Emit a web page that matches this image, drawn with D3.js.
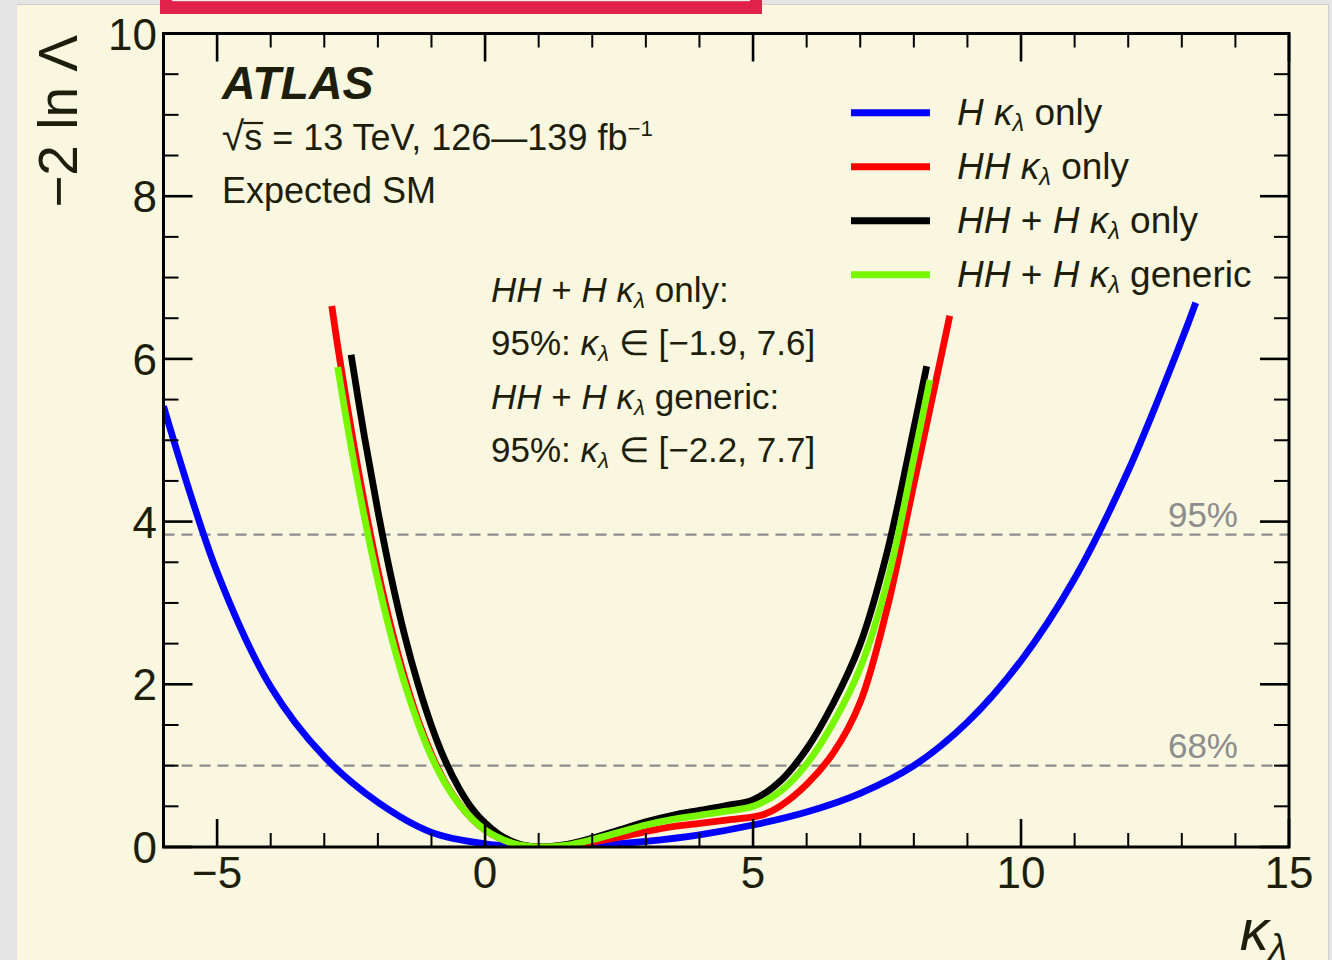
<!DOCTYPE html>
<html>
<head>
<meta charset="utf-8">
<script src="https://cdn.jsdelivr.net/npm/d3@7/dist/d3.min.js"></script>
<style>
  html, body { margin: 0; padding: 0; background: #e4e4e4; }
  svg { display: block; font-family: "Liberation Sans", Arial, Helvetica, sans-serif; }
</style>
</head>
<body>
<svg id="chart" width="1332" height="960"></svg>
<script>
// Likelihood scans of kappa_lambda (expected, SM hypothesis)
const kappaH    = [-6, -5, -4, -3, -2, -1, 0, 1, 2, 3, 4, 5, 6, 7, 8, 9, 10, 11, 12, 13, 13.26];
const nllH      = [5.42, 3.38, 1.97, 1.11, 0.55, 0.18, 0.04, 0, 0.02, 0.07, 0.15, 0.27, 0.43, 0.66, 1.0, 1.535, 2.29, 3.3, 4.625, 6.235, 6.69];

const kappaHH   = [-2.86, -2.75, -2.5, -2.25, -2, -1.75, -1.5, -1.25, -1, -0.75, -0.5, -0.25, 0, 0.25, 0.5, 0.75, 1, 1.5, 2, 2.5, 3, 3.5, 4, 4.5, 5, 5.2, 5.5, 6, 6.5, 7, 7.5, 8, 8.5, 8.67];
const nllHH     = [6.65, 6.16, 5.14, 4.22, 3.40, 2.69, 2.08, 1.56, 1.14, 0.80, 0.545, 0.35, 0.21, 0.115, 0.05, 0.0125, 0, 0.02, 0.06, 0.12, 0.19, 0.25, 0.29, 0.33, 0.37, 0.40, 0.50, 0.77, 1.16, 1.78, 2.93, 4.46, 6.0, 6.53];

const kappaComb = [-2.5, -2.25, -2, -1.75, -1.5, -1.25, -1, -0.75, -0.5, -0.25, 0, 0.25, 0.5, 0.75, 1, 1.5, 2, 2.5, 3, 3.5, 4, 4.5, 5, 5.5, 6, 6.5, 7, 7.5, 8, 8.24];
const nllComb   = [6.05, 5.04, 4.13, 3.31, 2.6, 2.0, 1.49, 1.07, 0.74, 0.48, 0.295, 0.16, 0.07, 0.018, 0, 0.03, 0.11, 0.21, 0.31, 0.39, 0.45, 0.51, 0.58, 0.805, 1.205, 1.77, 2.495, 3.62, 5.145, 5.91];

const kappaGen  = [-2.75, -2.5, -2.25, -2, -1.75, -1.5, -1.25, -1, -0.75, -0.5, -0.25, 0, 0.25, 0.5, 0.75, 1, 1.5, 2, 2.5, 3, 3.5, 4, 4.5, 5, 5.5, 6, 6.5, 7, 7.5, 8, 8.3];
const nllGen    = [5.9, 4.92, 4.05, 3.27, 2.59, 2.01, 1.52, 1.11, 0.79, 0.54, 0.35, 0.21, 0.115, 0.05, 0.0125, 0, 0.02, 0.09, 0.18, 0.27, 0.34, 0.39, 0.44, 0.50, 0.68, 1.02, 1.53, 2.2, 3.25, 4.78, 5.74];

const seriesNames  = ["H", "HH", "HH+H only", "HH+H generic"];
const seriesColors = ["#0000ff", "#ff0000", "#000000", "#77f700"];

const xTicksMajor = [-5, 0, 5, 10, 15];
const yTicksMajor = [0, 2, 4, 6, 8, 10];
const clLevels    = [1, 3.84];
const clLabels    = ["68%", "95%"];

const intervalComb = [-1.9, 7.6];
const intervalGen  = [-2.2, 7.7];

(function draw() {
  const svg = d3.select("#chart");
  const W = 1332, H = 960;
  const TXT = "#1e1e0c";

  // page panel
  svg.append("rect").attr("x", 0).attr("y", 0).attr("width", W).attr("height", H).attr("fill", "#e4e4e4");
  svg.append("rect").attr("x", 17).attr("y", 4.5).attr("width", 1311).attr("height", H).attr("fill", "#f9f7e0");
  svg.append("line").attr("x1", 17).attr("x2", 1328).attr("y1", 4.5).attr("y2", 4.5).attr("stroke", "#cfcfcf").attr("stroke-width", 1);
  svg.append("line").attr("x1", 1328.5).attr("x2", 1328.5).attr("y1", 4.5).attr("y2", H).attr("stroke", "#cfcfcf").attr("stroke-width", 1);
  // banner strip at the top edge
  svg.append("rect").attr("x", 160).attr("y", 0).attr("width", 602).attr("height", 14).attr("fill", "#e0224a");
  svg.append("rect").attr("x", 172).attr("y", 0).attr("width", 578).attr("height", 1.2).attr("fill", "#eaeaea");

  const pL = 163.5, pR = 1289, pT = 33.5, pB = 847;
  const x = d3.scaleLinear().domain([-6, 15]).range([pL, pR]);
  const y = d3.scaleLinear().domain([0, 10]).range([pB, pT]);

  svg.append("clipPath").attr("id", "plotClip")
    .append("rect").attr("x", pL).attr("y", pT).attr("width", pR - pL).attr("height", pB - pT);

  // confidence-level reference lines
  clLevels.forEach((lv, i) => {
    svg.append("line")
      .attr("x1", pL).attr("x2", pR).attr("y1", y(lv)).attr("y2", y(lv))
      .attr("stroke", "#8d8d8d").attr("stroke-width", 2.4).attr("stroke-dasharray", "11,7");
    svg.append("text")
      .attr("x", 1238).attr("y", y(lv) - 8)
      .attr("text-anchor", "end").attr("font-size", 35).attr("fill", "#8d8d8d")
      .text(clLabels[i]);
  });

  // scan curves
  const line = d3.line().x(d => x(d[0])).y(d => y(d[1])).curve(d3.curveCatmullRom.alpha(0.5));
  const curves = [
    [kappaH, nllH, 0],
    [kappaHH, nllHH, 1],
    [kappaComb, nllComb, 2],
    [kappaGen, nllGen, 3]
  ];
  const cg = svg.append("g").attr("clip-path", "url(#plotClip)");
  curves.forEach(([ks, vs, ci]) => {
    cg.append("path")
      .datum(ks.map((k, i) => [k, vs[i]]))
      .attr("d", line)
      .attr("fill", "none")
      .attr("stroke", seriesColors[ci])
      .attr("stroke-width", 6.8)
      .attr("stroke-linejoin", "round");
  });

  // frame and ticks
  const axes = svg.append("g").attr("stroke", "#000");
  axes.append("rect").attr("x", pL).attr("y", pT).attr("width", pR - pL).attr("height", pB - pT)
    .attr("fill", "none").attr("stroke-width", 3);
  d3.range(-6, 16, 1).forEach(v => {
    const major = xTicksMajor.includes(v);
    const len = major ? 28 : 14;
    axes.append("line").attr("x1", x(v)).attr("x2", x(v)).attr("y1", pB).attr("y2", pB - len).attr("stroke-width", major ? 2.6 : 2);
    axes.append("line").attr("x1", x(v)).attr("x2", x(v)).attr("y1", pT).attr("y2", pT + len).attr("stroke-width", major ? 2.6 : 2);
  });
  d3.range(0, 10.01, 0.5).forEach(v => {
    const major = yTicksMajor.includes(v);
    const len = major ? 29 : 15;
    axes.append("line").attr("x1", pL).attr("x2", pL + len).attr("y1", y(v)).attr("y2", y(v)).attr("stroke-width", major ? 2.6 : 2);
    axes.append("line").attr("x1", pR).attr("x2", pR - len).attr("y1", y(v)).attr("y2", y(v)).attr("stroke-width", major ? 2.6 : 2);
  });

  // tick labels
  const fmt = v => (v < 0 ? "\u2212" + Math.abs(v) : String(v));
  xTicksMajor.forEach(v => {
    svg.append("text").attr("x", x(v)).attr("y", 888).attr("text-anchor", "middle")
      .attr("font-size", 44).attr("fill", TXT).text(fmt(v));
  });
  yTicksMajor.forEach(v => {
    svg.append("text").attr("x", 157).attr("y", y(v) + 16).attr("text-anchor", "end")
      .attr("font-size", 44).attr("fill", TXT).text(fmt(v));
  });

  // axis titles
  svg.append("text")
    .attr("transform", "translate(77,35) rotate(-90)")
    .attr("text-anchor", "end").attr("font-size", 55).attr("fill", TXT)
    .text("\u22122 ln \u039b");

  function richText(g, xp, yp, size, segs, anchor) {
    const t = g.append("text").attr("x", xp).attr("y", yp).attr("font-size", size).attr("fill", TXT);
    if (anchor) t.attr("text-anchor", anchor);
    let shift = 0;
    segs.forEach(s => {
      const ts = t.append("tspan").text(s.t);
      if (s.i) ts.attr("font-style", "italic");
      const target = s.sub ? size * 0.17 : (s.sup ? -size * 0.38 : 0);
      if (target !== shift) { ts.attr("dy", target - shift); shift = target; }
      if (s.sub) ts.attr("font-size", size * 0.64);
      if (s.sup) ts.attr("font-size", size * 0.62);
      if (s.big) ts.attr("font-size", size * s.big);
    });
    return t;
  }
  const kl = [{t: "\u03ba", i: 1}, {t: "\u03bb", i: 1, sub: 1}];

  richText(svg, 1287, 950, 58, kl, "end");

  // experiment label
  svg.append("text").attr("x", 222).attr("y", 99).attr("font-size", 46.5)
    .attr("font-weight", "bold").attr("font-style", "italic").attr("fill", TXT).text("ATLAS");

  const energy = richText(svg, 222, 150, 36, [
    {t: "\u221a", big: 1.12}, {t: "s"}, {t: " = 13 TeV, 126\u2014139 fb"}, {t: "\u22121", sup: 1}
  ]);
  {
    const n = energy.node();
    const x0 = n.getStartPositionOfChar(1).x;
    const x1 = n.getEndPositionOfChar(1).x;
    svg.append("line").attr("x1", x0 - 1).attr("x2", x1 + 1).attr("y1", 123).attr("y2", 123)
      .attr("stroke", TXT).attr("stroke-width", 2.2);
  }
  svg.append("text").attr("x", 222).attr("y", 203).attr("font-size", 36).attr("fill", TXT).text("Expected SM");

  // interval summary
  const fmtI = v => (v < 0 ? "\u2212" + Math.abs(v).toFixed(1) : v.toFixed(1));
  richText(svg, 491, 302, 35, [{t: "HH", i: 1}, {t: " + "}, {t: "H", i: 1}, {t: " "}, ...kl, {t: " only:"}]);
  richText(svg, 491, 355, 35, [{t: "95%: "}, ...kl, {t: " \u2208 [" + fmtI(intervalComb[0]) + ", " + fmtI(intervalComb[1]) + "]"}]);
  richText(svg, 491, 409, 35, [{t: "HH", i: 1}, {t: " + "}, {t: "H", i: 1}, {t: " "}, ...kl, {t: " generic:"}]);
  richText(svg, 491, 462, 35, [{t: "95%: "}, ...kl, {t: " \u2208 [" + fmtI(intervalGen[0]) + ", " + fmtI(intervalGen[1]) + "]"}]);

  // legend
  const legendText = [
    [{t: "H", i: 1}, {t: " "}, ...kl, {t: " only"}],
    [{t: "HH", i: 1}, {t: " "}, ...kl, {t: " only"}],
    [{t: "HH", i: 1}, {t: " + "}, {t: "H", i: 1}, {t: " "}, ...kl, {t: " only"}],
    [{t: "HH", i: 1}, {t: " + "}, {t: "H", i: 1}, {t: " "}, ...kl, {t: " generic"}]
  ];
  seriesNames.forEach((name, i) => {
    const cy = 112.7 + i * 54;
    svg.append("line").attr("x1", 851).attr("x2", 930).attr("y1", cy).attr("y2", cy)
      .attr("stroke", seriesColors[i]).attr("stroke-width", 7);
    richText(svg, 957, cy + 12.5, 37, legendText[i]);
  });
})();
</script>
</body>
</html>
